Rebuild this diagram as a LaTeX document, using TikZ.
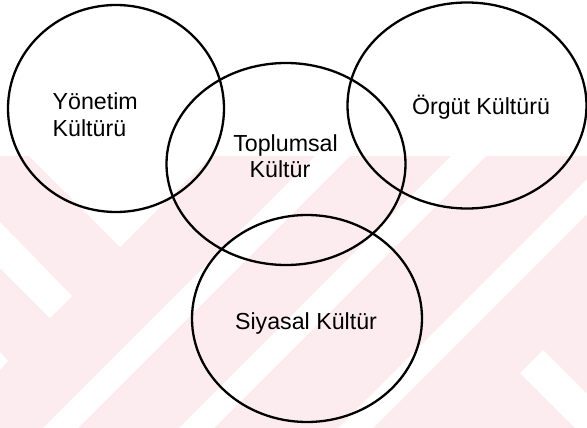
\documentclass[tikz,border=0pt]{standalone}
\usepackage{fontspec}
\setmainfont{Liberation Sans}
\definecolor{wmpink}{RGB}{252,236,240}
\tikzset{
  ring/.style={draw=black, line width=2.3pt},
  lbl/.style={inner sep=0pt, anchor=base, font=\fontsize{23.2}{26}\selectfont, text=black},
  wm/.style={fill=white, draw=none}
}
\begin{document}
\begin{tikzpicture}[x=1pt, y=-1pt]
\useasboundingbox (0,0) rectangle (587,428);
% watermark background
\fill[wmpink] (0,156) rectangle (587,428);
\fill[wm] (29,156) -- (120,247) -- (211,156) -- cycle;
\fill[wm] (0,222) -- (72,296) -- (50,318) -- (0,268) -- cycle;
\fill[wm] (315,156) -- (350,156) -- (78,428) -- (43,428) -- cycle;
\fill[wm] (451,156) -- (486,156) -- (214,428) -- (179,428) -- cycle;
\fill[wm] (587,179) -- (587,214) -- (373,428) -- (338,428) -- cycle;
\fill[wm] (520,373) -- (543,350) -- (587,394) -- (587,428) -- (575,428) -- cycle;
\fill[wm] (0,352) -- (8,361) -- (0,370) -- cycle;
% circles
\draw[ring] (116,108.5) ellipse [x radius=108, y radius=103.5];
\draw[ring] (286,164) ellipse [x radius=119.5, y radius=101];
\draw[ring] (467,105.5) ellipse [x radius=119.5, y radius=103];
\draw[ring] (307,318.5) ellipse [x radius=115, y radius=103.5];
% labels
\node[lbl, anchor=base west] (yon1) at (52.5,110) {Yönetim};
\node[lbl, anchor=base west] (yon2) at (52.5,136) {Kültürü};
\node[lbl] (top1) at (285.5,151) {Toplumsal};
\node[lbl] (top2) at (280,177) {Kültür};
\node[lbl] (org) at (481,114) {Örgüt Kültürü};
\node[lbl] (siy) at (306,329) {Siyasal Kültür};
\end{tikzpicture}
\end{document}
